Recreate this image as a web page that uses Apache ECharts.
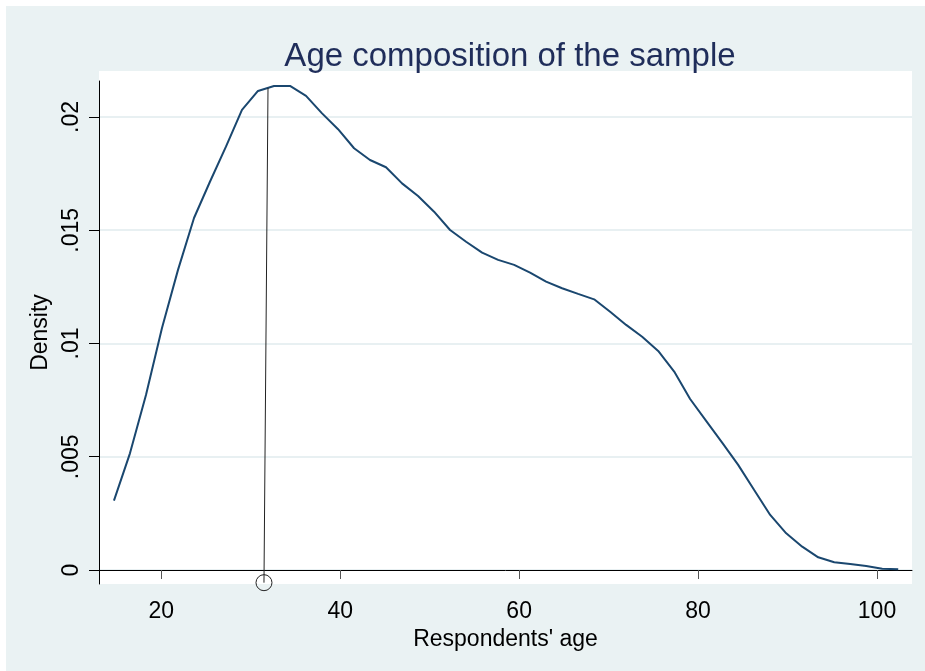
<!DOCTYPE html>
<html>
<head>
<meta charset="utf-8">
<script src="https://cdn.jsdelivr.net/npm/echarts@6/dist/echarts.min.js"></script>
<style>
  html, body { margin: 0; padding: 0; background: #fff; }
  .bg { position: absolute; left: 6px; top: 6px; width: 919px; height: 665px; background: #eaf2f3; }
  .plot { position: absolute; left: 99px; top: 71px; width: 813px; height: 513px; background: #fff; }
  #chart { position: absolute; left: 0; top: 0; width: 925px; height: 671px; }
</style>
</head>
<body>
<div class="bg"></div>
<div class="plot"></div>
<div id="chart"></div>
<script>
// kernel density estimate
const ages = [
  14.71, 16.50, 18.29, 20.08, 21.87, 23.66, 25.44, 27.23, 29.02, 30.81,
  32.60, 34.39, 36.18, 37.97, 39.76, 41.55, 43.33, 45.12, 46.91, 48.70,
  50.49, 52.28, 54.07, 55.86, 57.65, 59.44, 61.22, 63.01, 64.80, 66.59,
  68.38, 70.17, 71.96, 73.75, 75.54, 77.33, 79.11, 80.90, 82.69, 84.48,
  86.27, 88.06, 89.85, 91.64, 93.43, 95.22, 97.00, 98.79, 100.58, 102.37
];
const density = [
  0.00306, 0.00515, 0.00773, 0.01068, 0.01325, 0.01554, 0.01714, 0.01869, 0.02031, 0.02115,
  0.02137, 0.02137, 0.02093, 0.02016, 0.01946, 0.01862, 0.01810, 0.01778, 0.01707, 0.01651,
  0.01582, 0.01501, 0.01449, 0.01401, 0.01369, 0.01347, 0.01313, 0.01273, 0.01244, 0.01219,
  0.01195, 0.01140, 0.01082, 0.01030, 0.00967, 0.00876, 0.00755, 0.00658, 0.00562, 0.00464,
  0.00353, 0.00243, 0.00162, 0.00103, 0.00056, 0.00034, 0.00026, 0.00018, 0.00006, 0.00003
];

// vertical marker line (bottom circle -> top of curve)
const spikeAge = [31.48, 31.93];
const spikeDensity = [-0.00056, 0.02128];

const xTicks = [20, 40, 60, 80, 100];
const yTicks = [0, 0.005, 0.01, 0.015, 0.02];
const yTickLabels = ['0', '.005', '.01', '.015', '.02'];

const font = 'Liberation Sans, Arial, sans-serif';

const chart = echarts.init(document.getElementById('chart'));

const option = {
  animation: false,
  title: {
    text: 'Age composition of the sample',
    left: 505,
    top: 35,
    textAlign: 'center',
    textStyle: { fontFamily: font, fontSize: 33, fontWeight: 'normal', color: '#1f2d5a' }
  },
  grid: { left: 99, right: 13, top: 81, bottom: 87 },
  xAxis: {
    type: 'value',
    min: 13.04,
    max: 103.91,
    name: "Respondents' age",
    nameLocation: 'middle',
    nameGap: 39,
    nameTextStyle: { fontFamily: font, fontSize: 23, color: '#000' },
    axisLine: { show: true, lineStyle: { color: '#000', width: 1 } },
    axisTick: { show: true, length: 9, customValues: xTicks, lineStyle: { color: '#555' } },
    axisLabel: { customValues: xTicks, margin: 16, fontFamily: font, fontSize: 23, color: '#000' },
    splitLine: { show: false }
  },
  yAxis: {
    type: 'value',
    min: -0.000618,
    max: 0.021589,
    name: 'Density',
    nameLocation: 'middle',
    nameGap: 43,
    nameTextStyle: { fontFamily: font, fontSize: 23, color: '#000' },
    axisLine: { show: true, lineStyle: { color: '#000', width: 1 } },
    axisTick: { show: true, length: 10, customValues: yTicks, lineStyle: { color: '#000' } },
    axisLabel: {
      customValues: yTicks,
      rotate: 90,
      margin: 16,
      fontFamily: font,
      fontSize: 23,
      color: '#000',
      formatter: function (v) {
        for (let i = 0; i < yTicks.length; i++) {
          if (Math.abs(yTicks[i] - v) < 1e-9) return yTickLabels[i];
        }
        return '';
      }
    },
    splitLine: { show: true, lineStyle: { color: '#e8f0f2', width: 2 } }
  },
  series: [
    {
      name: 'density',
      type: 'line',
      data: ages.map((a, i) => [a, density[i]]),
      showSymbol: false,
      symbol: 'none',
      lineStyle: { color: '#1a476f', width: 2 },
      z: 3
    },
    {
      name: 'spike',
      type: 'line',
      clip: false,
      data: [
        {
          value: [spikeAge[0], spikeDensity[0]],
          symbol: 'circle',
          symbolSize: 16,
          itemStyle: { color: 'rgba(0,0,0,0)', borderColor: '#222', borderWidth: 1 }
        },
        { value: [spikeAge[1], spikeDensity[1]], symbol: 'none' }
      ],
      lineStyle: { color: '#222', width: 1 },
      z: 4
    }
  ]
};

chart.setOption(option);
window.addEventListener('resize', () => chart.resize());
</script>
</body>
</html>
